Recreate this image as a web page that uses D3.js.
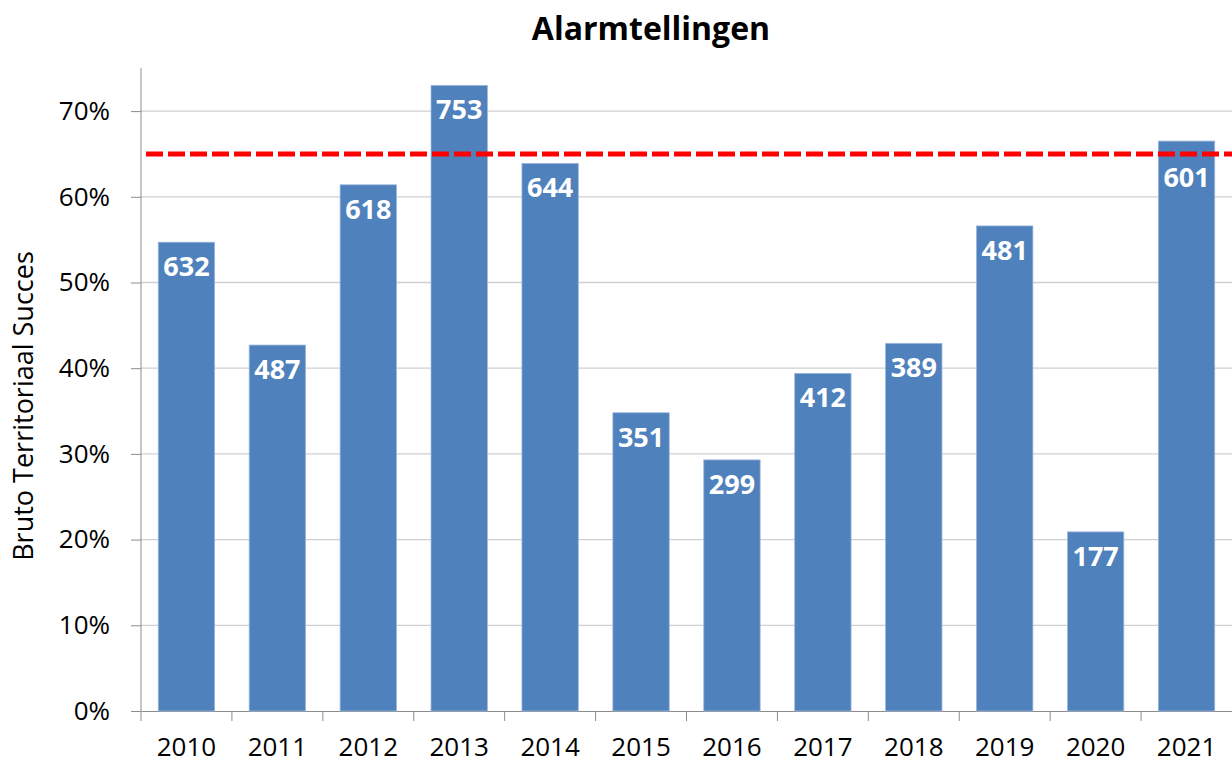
<!DOCTYPE html>
<html>
<head>
<meta charset="utf-8">
<script src="https://cdn.jsdelivr.net/npm/d3@7"></script>
<style>
  body { margin: 0; background: #fff; }
  svg text { font-family: "Open Sans", Lato, sans-serif; }
</style>
</head>
<body>
<svg id="chart" width="1232" height="765"></svg>
<script>
// chart data
var years = ["2010", "2011", "2012", "2013", "2014", "2015", "2016", "2017", "2018", "2019", "2020", "2021"];
var succes = [0.547, 0.427, 0.614, 0.730, 0.639, 0.348, 0.293, 0.394, 0.429, 0.566, 0.209, 0.665];
var counts = [632, 487, 618, 753, 644, 351, 299, 412, 389, 481, 177, 601];
var yTicks = [0, 0.1, 0.2, 0.3, 0.4, 0.5, 0.6, 0.7];
var target = 0.65;

var svg = d3.select('#chart');
var margin = {top: 68, right: 0, bottom: 54, left: 141};
var width = 1232 - margin.left - margin.right;
var height = 765 - margin.top - margin.bottom;

var g = svg.append('g').attr('transform', 'translate(' + margin.left + ',' + margin.top + ')');

var x = d3.scaleBand().domain(years).range([0, width]).paddingInner(0.38).paddingOuter(0.19);
var y = d3.scaleLinear().domain([0, 0.75]).range([height, height - 0.75 / 0.1 * 85.7]);

// gridlines
g.selectAll('.grid').data(yTicks.slice(1))
  .enter().append('line')
  .attr('x1', 0).attr('x2', width)
  .attr('y1', function(d) { return y(d); })
  .attr('y2', function(d) { return y(d); })
  .attr('stroke', '#d0d0d0').attr('stroke-width', 1.3);

// y axis
var yAxis = g.append('g')
  .call(d3.axisLeft(y).tickValues(yTicks).tickSize(10).tickPadding(21)
    .tickFormat(d3.format('.0%')));
yAxis.select('.domain').attr('stroke', '#8c8c8c').attr('d', 'M0,' + height + 'V' + y(0.75));
yAxis.selectAll('.tick line').attr('stroke', '#8c8c8c');
yAxis.selectAll('.tick text').style('font-size', '26px').attr('fill', '#000');

// x axis
var xAxis = g.append('g').attr('transform', 'translate(0,' + height + ')')
  .call(d3.axisBottom(x).tickSize(0).tickPadding(27));
xAxis.select('.domain').attr('stroke', '#8c8c8c');
xAxis.selectAll('.tick text').style('font-size', '26px').attr('fill', '#000');
// category separators
g.selectAll('.sep').data(years)
  .enter().append('line')
  .attr('x1', function(d) { return x(d) - x.step() * x.paddingInner() / 2; })
  .attr('x2', function(d) { return x(d) - x.step() * x.paddingInner() / 2; })
  .attr('y1', height).attr('y2', height + 10)
  .attr('stroke', '#8c8c8c');

// bars
g.selectAll('.bar').data(succes)
  .enter().append('rect')
  .attr('x', function(d, i) { return x(years[i]); })
  .attr('width', x.bandwidth())
  .attr('y', function(d) { return y(d); })
  .attr('height', function(d) { return height - y(d); })
  .attr('fill', '#4F81BD')
  .attr('stroke', '#9cb6dc').attr('stroke-width', 0.8);

// value labels (2021 label sits below the target line)
g.selectAll('.lbl').data(counts)
  .enter().append('text')
  .attr('x', function(d, i) { return x(years[i]) + x.bandwidth() / 2; })
  .attr('y', function(d, i) { return y(succes[i]) + (years[i] === '2021' ? 46 : 34); })
  .attr('text-anchor', 'middle')
  .attr('fill', '#fff')
  .style('font-size', '27px').style('font-weight', 'bold')
  .text(function(d) { return d; });

// target line
g.append('line')
  .attr('x1', 5).attr('x2', width)
  .attr('y1', y(target)).attr('y2', y(target))
  .attr('stroke', '#ff0000').attr('stroke-width', 5)
  .attr('stroke-dasharray', '17,5');

// title
svg.append('text')
  .attr('x', 651).attr('y', 40)
  .attr('text-anchor', 'middle')
  .style('font-size', '32px').style('font-weight', 'bold')
  .text('Alarmtellingen');

// y label
svg.append('text')
  .attr('transform', 'translate(33,406) rotate(-90)')
  .attr('text-anchor', 'middle')
  .style('font-size', '27px')
  .text('Bruto Territoriaal Succes');
</script>
</body>
</html>
